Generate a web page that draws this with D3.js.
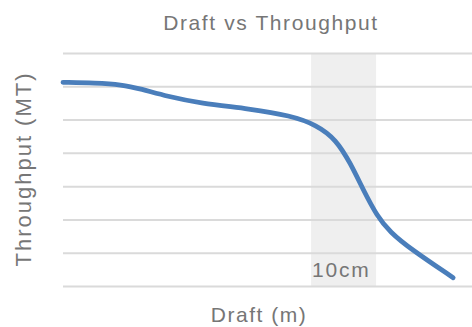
<!DOCTYPE html>
<html>
<head>
<meta charset="utf-8">
<script src="https://cdn.jsdelivr.net/npm/d3@7"></script>
<style>
  html, body { margin: 0; padding: 0; background: #fff; }
  svg { display: block; }
  text { font-family: "Liberation Sans", Arial, sans-serif; fill: #767676; }
</style>
</head>
<body>
<div id="chart"></div>
<script>
// Data (draft in m, throughput in arbitrary MT units)
const title = "Draft vs Throughput";
const xLabel = "Draft (m)";
const yLabel = "Throughput (MT)";
const draft      = [11.000, 11.050, 11.090, 11.120, 11.160, 11.211, 11.288, 11.350, 11.390, 11.420, 11.442, 11.462, 11.483, 11.503, 11.534, 11.600];
const throughput = [6.12,   6.10,   6.05,   5.92,   5.70,   5.49,   5.32,   5.12,   4.84,   4.40,   3.69,   2.88,   2.10,   1.62,   1.12,   0.25];
const yTicks = [0, 1, 2, 3, 4, 5, 6, 7];
const bandRange = [11.3815, 11.4815];
const bandLabel = "10cm";

const W = 472, H = 327;
const margin = { top: 53, right: 0, bottom: 41, left: 63 };

const svg = d3.select("#chart").append("svg").attr("width", W).attr("height", H);

const x = d3.scaleLinear().domain([11.0, 11.629]).range([margin.left, W - margin.right]);
const y = d3.scaleLinear().domain([0, 7]).range([H - margin.bottom, margin.top]);

// band
svg.append("rect")
  .attr("x", x(bandRange[0]))
  .attr("width", x(bandRange[1]) - x(bandRange[0]))
  .attr("y", y(7))
  .attr("height", y(0) - y(7))
  .attr("fill", "#efefef");

// gridlines via axis
const yAxis = d3.axisLeft(y).tickValues(yTicks).tickSize(-(W - margin.left - margin.right)).tickFormat("");
const gy = svg.append("g").attr("transform", `translate(${margin.left},0)`).call(yAxis);
gy.select(".domain").remove();
gy.selectAll(".tick line").attr("stroke", "#dadada").attr("stroke-width", 2);

// band label
svg.append("text")
  .attr("x", x(bandRange[0]) + 1)
  .attr("y", y(0) - 9)
  .attr("font-size", 21)
  .attr("letter-spacing", 1.8)
  .text(bandLabel);

// line
const data = draft.map((d, i) => ({ x: d, y: throughput[i] }));
const line = d3.line().x(d => x(d.x)).y(d => y(d.y)).curve(d3.curveBasis);
svg.append("path")
  .datum(data)
  .attr("d", line)
  .attr("fill", "none")
  .attr("stroke", "#4a7ebb")
  .attr("stroke-width", 4.8)
  .attr("stroke-linecap", "round")
  .attr("stroke-linejoin", "round");

// title
svg.append("text")
  .attr("x", 271)
  .attr("y", 30)
  .attr("text-anchor", "middle")
  .attr("font-size", 21)
  .attr("letter-spacing", 1.6)
  .text(title);

// x label
svg.append("text")
  .attr("x", 259)
  .attr("y", 322)
  .attr("text-anchor", "middle")
  .attr("font-size", 21)
  .attr("letter-spacing", 1.5)
  .text(xLabel);

// y label
svg.append("text")
  .attr("transform", `translate(31,169) rotate(-90)`)
  .attr("text-anchor", "middle")
  .attr("font-size", 22)
  .attr("letter-spacing", 2)
  .text(yLabel);
</script>
</body>
</html>
